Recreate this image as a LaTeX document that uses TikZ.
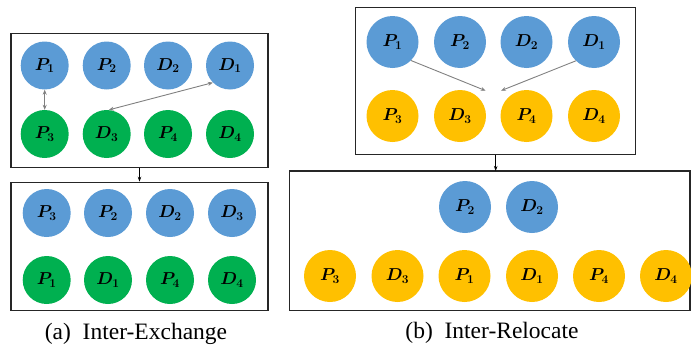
\documentclass[tikz,border=0pt]{standalone}
\usepackage{bm}
\usepackage{fontspec}
\setmainfont{Liberation Serif}
\usetikzlibrary{arrows.meta}
\definecolor{cblue}{HTML}{5B9BD5}
\definecolor{cgreen}{HTML}{00B050}
\definecolor{cyel}{HTML}{FFC000}
\tikzset{
  circ/.style={circle, minimum size=#1, inner sep=0pt, font=\fontsize{16.5}{18}\selectfont},
  bl/.style={circ=48pt, fill=cblue},
  gr/.style={circ=48pt, fill=cgreen},
  blb/.style={circ=52pt, fill=cblue},
  ye/.style={circ=52pt, fill=cyel},
  panel/.style={draw=black!85, line width=1.1pt},
  garr/.style={draw=gray, line width=0.9pt, -{Stealth[length=5pt,width=4pt]}},
  garrb/.style={draw=gray, line width=0.9pt, {Stealth[length=5pt,width=4pt]}-{Stealth[length=5pt,width=4pt]}},
  karr/.style={draw=black, line width=0.8pt, -{Stealth[length=5pt,width=3.5pt]}},
  captxt/.style={font=\fontsize{23.5}{26}\selectfont}
}
\newcommand{\lbl}[2]{$\bm{#1}_{\bm{#2}}$}
\begin{document}
\begin{tikzpicture}[x=1pt,y=-1pt]
\useasboundingbox (0,0) rectangle (691,351);
% ---------- (a) ----------
\node[panel, minimum width=257pt, minimum height=134pt, inner sep=0pt] (aTop) at (139.5,100.5) {};
\node[bl] (aP1) at (44.7,65.5) {\lbl{P}{1}};
\node[bl] (aP2) at (106.7,65.5) {\lbl{P}{2}};
\node[bl] (aD2) at (168,65.5) {\lbl{D}{2}};
\node[bl] (aD1) at (230,65.5) {\lbl{D}{1}};
\node[gr] (aP3) at (44.7,134) {\lbl{P}{3}};
\node[gr] (aD3) at (106.7,134) {\lbl{D}{3}};
\node[gr] (aP4) at (168,134) {\lbl{P}{4}};
\node[gr] (aD4) at (230,134) {\lbl{D}{4}};
\draw[garrb] (aP1.south) -- (aP3.north);
\draw[garrb] (aD3.85) -- (aD1.225);

\node[panel, minimum width=257pt, minimum height=128.5pt, inner sep=0pt] (aBot) at (139.5,246.5) {};
\draw[karr] (aTop.south) -- (aBot.north);
\node[bl] (bP3) at (46.7,213) {\lbl{P}{3}};
\node[bl] (bP2) at (108,213) {\lbl{P}{2}};
\node[bl] (bD2) at (170,213) {\lbl{D}{2}};
\node[bl] (bD3) at (232,213) {\lbl{D}{3}};
\node[gr] (bP1) at (46.7,280) {\lbl{P}{1}};
\node[gr] (bD1) at (108,280) {\lbl{D}{1}};
\node[gr] (bP4) at (170,280) {\lbl{P}{4}};
\node[gr] (bD4) at (232,280) {\lbl{D}{4}};
\node[captxt] (capa) at (136,334) {(a)\hspace{0.5em}Inter-Exchange};

% ---------- (b) ----------
\node[panel, minimum width=280pt, minimum height=146.7pt, inner sep=0pt] (rTop) at (495.7,80.7) {};
\node[blb] (rP1) at (392.5,42) {\lbl{P}{1}};
\node[blb] (rP2) at (460,42) {\lbl{P}{2}};
\node[blb] (rD2) at (526.5,42) {\lbl{D}{2}};
\node[blb] (rD1) at (594,42) {\lbl{D}{1}};
\node[ye] (rP3) at (392.5,116) {\lbl{P}{3}};
\node[ye] (rD3) at (460,116) {\lbl{D}{3}};
\node[ye] (rP4) at (526.5,116) {\lbl{P}{4}};
\node[ye] (rD4) at (594,116) {\lbl{D}{4}};
\coordinate (tgtL) at (485.7,90.7);
\coordinate (tgtR) at (501,90.7);
\draw[garr] (rP1.-45) -- (tgtL);
\draw[garr] (rD1.-134) -- (tgtR);

\coordinate (rBotTop) at (495.7,171);
\draw[panel] (289.3,171) rectangle (690,310.7);
\draw[karr] (rTop.south) -- (rBotTop);
\node[blb] (sP2) at (465,207) {\lbl{P}{2}};
\node[blb] (sD2) at (532,207) {\lbl{D}{2}};
\node[ye] (sP3) at (330,276) {\lbl{P}{3}};
\node[ye] (sD3) at (397.5,276) {\lbl{D}{3}};
\node[ye] (sP1) at (464.5,276) {\lbl{P}{1}};
\node[ye] (sD1) at (532,276) {\lbl{D}{1}};
\node[ye] (sP4) at (599,276) {\lbl{P}{4}};
\node[ye] (sD4) at (666,276) {\lbl{D}{4}};
\node[captxt] (capb) at (492,333) {(b)\hspace{0.5em}Inter-Relocate};
\end{tikzpicture}
\end{document}
